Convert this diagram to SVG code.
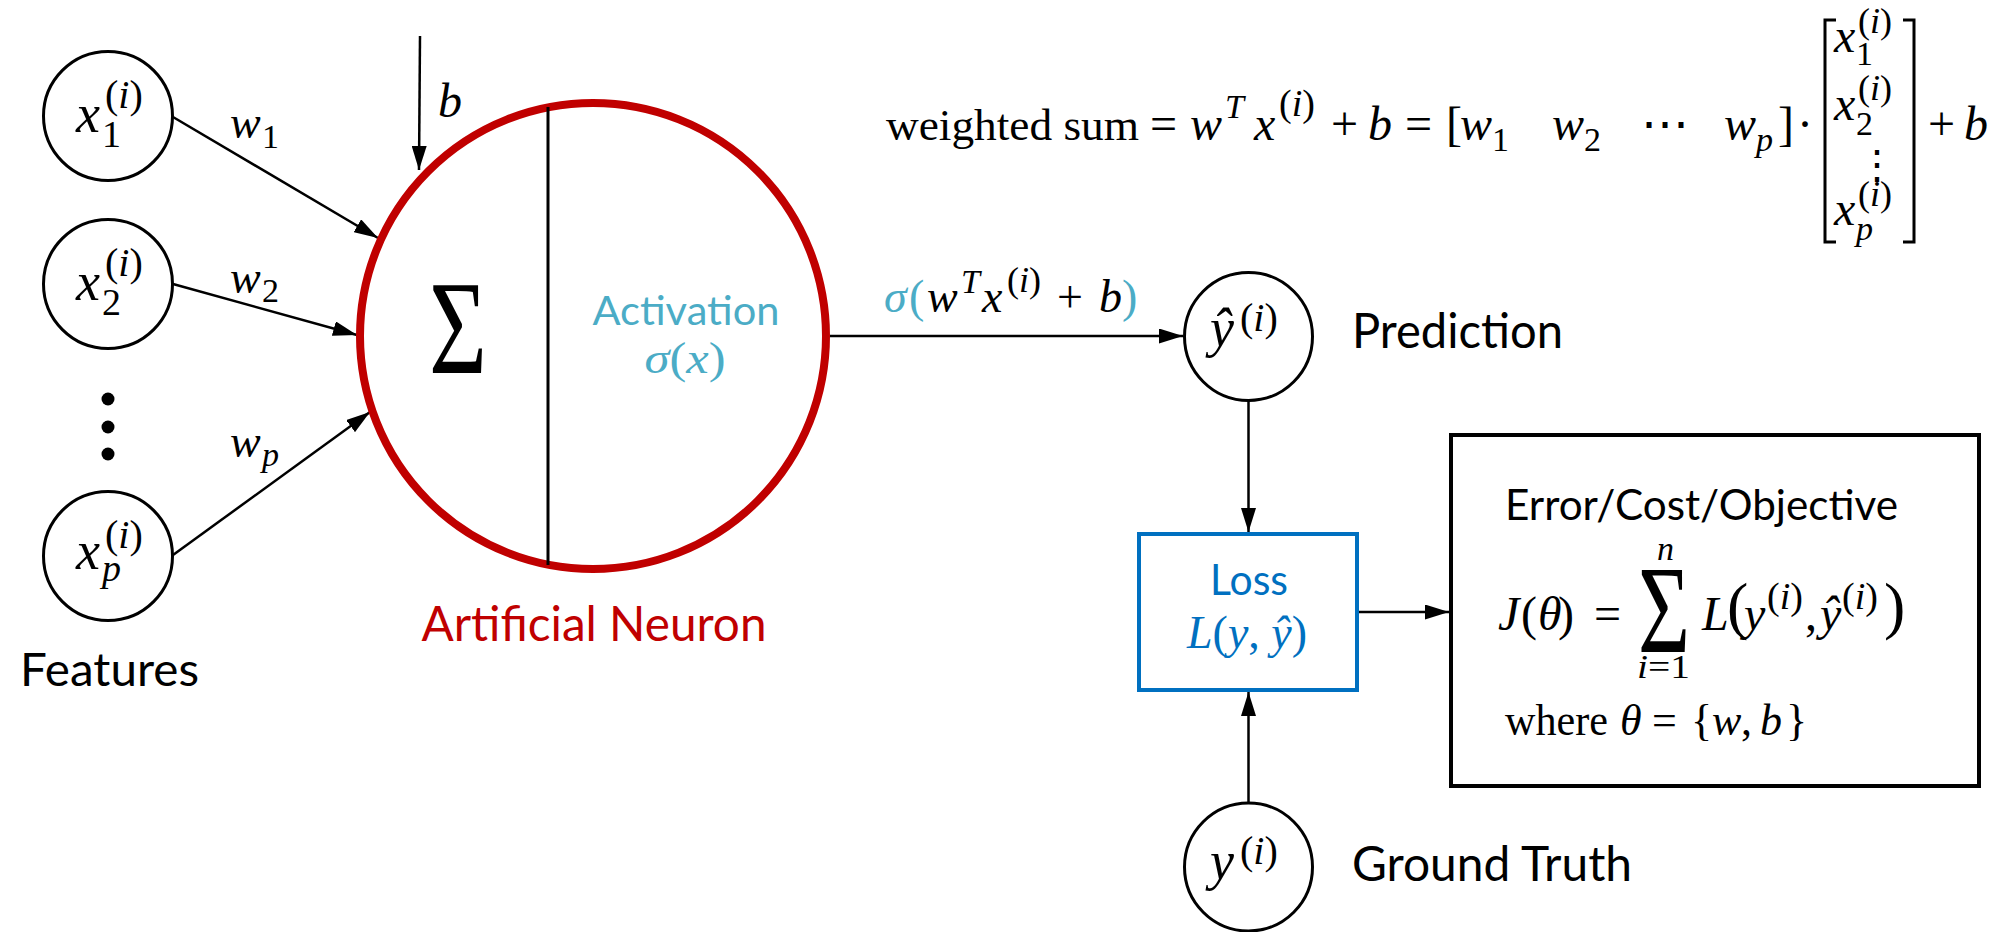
<svg xmlns="http://www.w3.org/2000/svg" width="1997" height="932" viewBox="0 0 1997 932">
<defs>
<marker id="ah" markerUnits="userSpaceOnUse" markerWidth="24" markerHeight="15" refX="24" refY="7.5" orient="auto">
<path d="M0,0 L24,7.5 L0,15 z" fill="#000"/>
</marker>
<style>
.sans{font-family:Lato,"Open Sans","Liberation Sans",sans-serif}
.m{font-family:"Liberation Serif","DejaVu Serif",serif;font-style:italic}
.r{font-family:"Liberation Serif","DejaVu Serif",serif;font-style:normal}
.it{font-style:italic}
.ln{stroke:#000;stroke-width:2.5;fill:none}
.nd{fill:#fff;stroke:#000;stroke-width:3}
.cy{fill:#4BACC6}
.bl{fill:#0070C0}
.rd{fill:#C00000}
</style>
</defs>
<rect width="1997" height="932" fill="#fff"/>

<g id="connectors">
<path class="ln" d="M420,36 L419,170" marker-end="url(#ah)"/>
<path class="ln" d="M173,117 L378,238" marker-end="url(#ah)"/>
<path class="ln" d="M173,284 L357,335" marker-end="url(#ah)"/>
<path class="ln" d="M173,555 L370,412" marker-end="url(#ah)"/>
<path class="ln" d="M830,336 L1183,336" marker-end="url(#ah)"/>
<path class="ln" d="M1248.5,401 L1248.5,532" marker-end="url(#ah)"/>
<path class="ln" d="M1248.5,803 L1248.5,692" marker-end="url(#ah)"/>
<path class="ln" d="M1359,612 L1449,612" marker-end="url(#ah)"/>
</g>

<g id="edge-labels" font-size="46">
<text class="m" x="230" y="138">w</text><text class="r" x="262" y="148" font-size="34">1</text>
<text class="m" x="230" y="293">w</text><text class="r" x="262" y="302" font-size="34">2</text>
<text class="m" x="230" y="457">w</text><text class="m" x="262" y="466" font-size="34">p</text>
<text class="m" x="438" y="117" font-size="48">b</text>
<g font-size="46">
<text class="m cy" x="884" y="312">σ</text>
<text class="r cy" x="909" y="312">(</text>
<text class="m" x="927" y="312">w</text>
<text class="m" x="961" y="293" font-size="34">T</text>
<text class="m" x="982" y="312">x</text>
<text class="r" x="1007" y="292" font-size="36">(<tspan class="it">i</tspan>)</text>
<text class="r" x="1057" y="312">+</text>
<text class="m" x="1099" y="312">b</text>
<text class="r cy" x="1122" y="312">)</text>
</g>
</g>

<g id="x1">
<circle class="nd" cx="108" cy="116" r="64.5"/>
<text class="m" x="76" y="132" font-size="54">x</text>
<text class="r" x="102" y="147" font-size="38">1</text>
<text class="r" x="105" y="108" font-size="40">(<tspan class="it">i</tspan>)</text>
</g>
<g id="x2">
<circle class="nd" cx="108" cy="284" r="64.5"/>
<text class="m" x="76" y="300" font-size="54">x</text>
<text class="r" x="102" y="315" font-size="38">2</text>
<text class="r" x="105" y="276" font-size="40">(<tspan class="it">i</tspan>)</text>
</g>
<g id="dots">
<circle cx="108" cy="399" r="6.5"/>
<circle cx="108" cy="427" r="6.5"/>
<circle cx="108" cy="454" r="6.5"/>
</g>
<g id="xp">
<circle class="nd" cx="108" cy="556" r="64.5"/>
<text class="m" x="76" y="569" font-size="54">x</text>
<text class="m" x="102" y="581" font-size="38">p</text>
<text class="r" x="105" y="548" font-size="40">(<tspan class="it">i</tspan>)</text>
</g>
<g id="features-label">
<text class="sans" x="20" y="686" font-size="46" textLength="179" lengthAdjust="spacingAndGlyphs">Features</text>
</g>

<g id="neuron">
<circle cx="593" cy="336" r="233" fill="none" stroke="#C00000" stroke-width="8"/>
<line x1="548" y1="107" x2="548" y2="565" stroke="#000" stroke-width="3"/>
<text class="r" x="429" y="373" font-size="134" textLength="58" lengthAdjust="spacingAndGlyphs">Σ</text>
<text class="sans cy" x="686" y="325" font-size="40" text-anchor="middle" textLength="187" lengthAdjust="spacingAndGlyphs">Activation</text>
<text class="m cy" x="685" y="373" font-size="44" text-anchor="middle" textLength="81" lengthAdjust="spacingAndGlyphs">σ<tspan class="r">(</tspan>x<tspan class="r">)</tspan></text>
<text class="sans rd" x="594" y="641" font-size="48" text-anchor="middle" textLength="345" lengthAdjust="spacingAndGlyphs">Artificial Neuron</text>
</g>

<g id="formula" font-size="48">
<text class="r" x="886" y="140" font-size="44" textLength="253" lengthAdjust="spacingAndGlyphs">weighted sum</text>
<text class="r" x="1150" y="140">=</text>
<text class="m" x="1190" y="140">w</text>
<text class="m" x="1225" y="118" font-size="34">T</text>
<text class="m" x="1254" y="140">x</text>
<text class="r" x="1279" y="116" font-size="38">(<tspan class="it">i</tspan>)</text>
<text class="r" x="1331" y="140">+</text>
<text class="m" x="1368" y="140">b</text>
<text class="r" x="1405" y="140">=</text>
<text class="r" x="1446" y="140">[</text>
<text class="m" x="1460" y="140">w</text><text class="r" x="1492" y="151" font-size="34">1</text>
<text class="m" x="1552" y="140">w</text><text class="r" x="1584" y="151" font-size="34">2</text>
<text class="r" x="1641" y="140">⋯</text>
<text class="m" x="1724" y="140">w</text><text class="m" x="1756" y="151" font-size="34">p</text>
<text class="r" x="1778" y="140">]</text>
<text class="r" x="1797" y="140">·</text>
<path d="M1836,20 L1825,20 L1825,242 L1836,242 M1903,20 L1914,20 L1914,242 L1903,242" fill="none" stroke="#000" stroke-width="3"/>
<text class="m" x="1834" y="52">x</text><text class="r" x="1856" y="65" font-size="34">1</text><text class="r" x="1858" y="33" font-size="36">(<tspan class="it">i</tspan>)</text>
<text class="m" x="1834" y="120">x</text><text class="r" x="1856" y="135" font-size="34">2</text><text class="r" x="1858" y="100" font-size="36">(<tspan class="it">i</tspan>)</text>
<text class="r" x="1857" y="178" font-size="40">⋮</text>
<text class="m" x="1834" y="225">x</text><text class="m" x="1856" y="240" font-size="34">p</text><text class="r" x="1858" y="206" font-size="36">(<tspan class="it">i</tspan>)</text>
<text class="r" x="1928" y="140">+</text>
<text class="m" x="1964" y="140">b</text>
</g>

<g id="prediction">
<circle class="nd" cx="1248.5" cy="336.5" r="64"/>
<text class="m" x="1210" y="346" font-size="54">ŷ</text>
<text class="r" x="1240" y="331" font-size="40">(<tspan class="it">i</tspan>)</text>
<text class="sans" x="1352" y="348" font-size="48" textLength="211" lengthAdjust="spacingAndGlyphs">Prediction</text>
</g>

<g id="loss">
<rect x="1139" y="534" width="218" height="156" fill="#fff" stroke="#0070C0" stroke-width="4"/>
<text class="sans bl" x="1249" y="595" font-size="42" text-anchor="middle" textLength="78" lengthAdjust="spacingAndGlyphs">Loss</text>
<text class="m bl" x="1247" y="648" font-size="46" text-anchor="middle" textLength="120" lengthAdjust="spacingAndGlyphs">L<tspan class="r">(</tspan>y<tspan class="r">, </tspan>ŷ<tspan class="r">)</tspan></text>
</g>

<g id="objective">
<rect x="1451" y="435" width="528" height="351" fill="#fff" stroke="#000" stroke-width="4"/>
<text class="sans" x="1505" y="520" font-size="42" textLength="393" lengthAdjust="spacingAndGlyphs">Error/Cost/Objective</text>
<g font-size="48">
<text class="m" x="1498" y="630">J</text>
<text class="r" x="1521" y="630">(</text>
<text class="m" x="1538" y="630">θ</text>
<text class="r" x="1558" y="630">)</text>
<text class="r" x="1594" y="630">=</text>
<text class="r" x="1638" y="652" font-size="124" textLength="52" lengthAdjust="spacingAndGlyphs">Σ</text>
<text class="m" x="1657" y="560" font-size="34">n</text>
<text class="m" x="1637" y="678" font-size="34" textLength="53" lengthAdjust="spacingAndGlyphs">i<tspan class="r">=1</tspan></text>
<text class="m" x="1702" y="630">L</text>
<text class="r" x="1727" y="627" font-size="64">(</text>
<text class="m" x="1744" y="630">y</text>
<text class="r" x="1767" y="609" font-size="38">(<tspan class="it">i</tspan>)</text>
<text class="r" x="1805" y="630">,</text>
<text class="m" x="1820" y="630">ŷ</text>
<text class="r" x="1842" y="609" font-size="38">(<tspan class="it">i</tspan>)</text>
<text class="r" x="1884" y="627" font-size="64">)</text>
</g>
<g font-size="44">
<text class="r" x="1505" y="735" textLength="103" lengthAdjust="spacingAndGlyphs">where</text>
<text class="m" x="1620" y="735">θ</text>
<text class="r" x="1652" y="735">=</text>
<text class="r" x="1691" y="735">{</text>
<text class="m" x="1712" y="735">w</text>
<text class="r" x="1741" y="735">,</text>
<text class="m" x="1760" y="735">b</text>
<text class="r" x="1786" y="735">}</text>
</g>
</g>

<g id="ground-truth">
<circle class="nd" cx="1248.5" cy="867" r="64"/>
<text class="m" x="1210" y="879" font-size="54">y</text>
<text class="r" x="1240" y="864" font-size="40">(<tspan class="it">i</tspan>)</text>
<text class="sans" x="1352" y="881" font-size="48" textLength="280" lengthAdjust="spacingAndGlyphs">Ground Truth</text>
</g>
</svg>
